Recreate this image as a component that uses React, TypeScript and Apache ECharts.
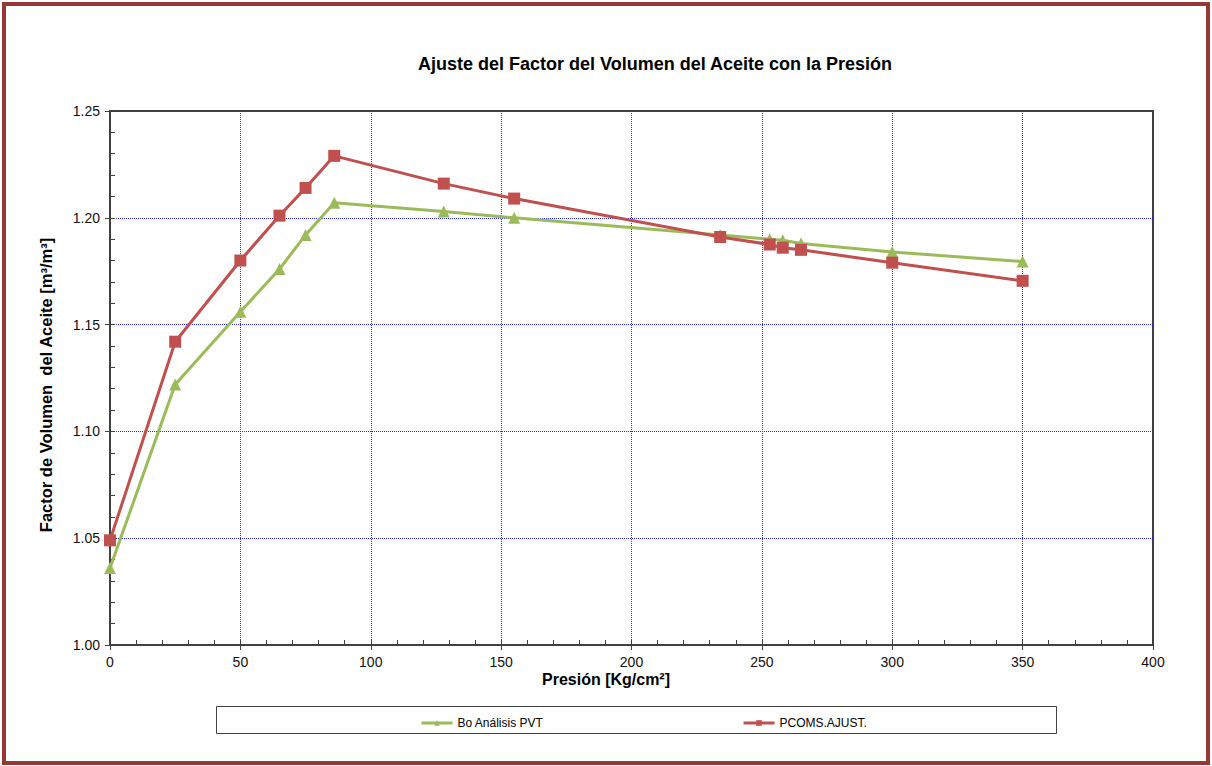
import React, { useEffect, useRef } from "react";
import * as echarts from "echarts";

const pressure = [0, 25, 50, 65, 75, 86, 128, 155, 234, 253, 258, 265, 300, 350];
const boPVT = [1.036, 1.122, 1.156, 1.176, 1.192, 1.207, 1.203, 1.2, 1.192, 1.19, 1.1895, 1.188, 1.184, 1.1795];
const pcoms = [1.049, 1.142, 1.18, 1.201, 1.214, 1.229, 1.216, 1.209, 1.191, 1.1875, 1.186, 1.185, 1.179, 1.1705];

const titleText = "Ajuste del Factor del Volumen del Aceite con la Presión";
const xName = "Presión [Kg/cm²]";
const yName = "Factor de Volumen  del Aceite [m³/m³]";
const seriesNames = ["Bo Análisis PVT", "PCOMS.AJUST."];

const FONT = "'Liberation Sans', Arial, sans-serif";

export default function App() {
  const ref = useRef<HTMLDivElement>(null);
  useEffect(() => {
    if (!ref.current) return;
    const chart = echarts.init(ref.current, null, { renderer: "svg" });
    const grid = { left: 110, top: 111, width: 1043, height: 534 };
    const gridLine = { show: true, lineStyle: { color: "#2a2aff", type: "dotted", width: 1 } };
    const legendCommon = {
      top: 712,
      itemWidth: 31,
      itemHeight: 7,
      itemGap: 4,
      lineStyle: { width: 3 },
      textStyle: { fontSize: 12, color: "#000", fontFamily: FONT },
    };
    chart.setOption({
      animation: false,
      textStyle: { fontFamily: FONT },
      grid: { ...grid, show: true, borderColor: "#404040", borderWidth: 2, backgroundColor: "#fff" },
      legend: [
        { ...legendCommon, data: [seriesNames[0]], left: 415 },
        { ...legendCommon, data: [seriesNames[1]], left: 737 },
      ],
      xAxis: [
        {
          type: "value",
          min: 0,
          max: 400,
          interval: 50,
          position: "bottom",
          axisLine: { show: true, onZero: false, lineStyle: { color: "#404040", width: 2 } },
          axisTick: { show: true, inside: false, length: 5, lineStyle: { color: "#404040" } },
          axisLabel: { fontSize: 14, color: "#111", margin: 10, fontFamily: FONT },
          splitLine: gridLine,
        },
        {
          type: "value",
          min: 0,
          max: 400,
          interval: 10,
          position: "bottom",
          axisLine: { show: false, onZero: false },
          axisTick: { show: true, inside: true, length: 5, lineStyle: { color: "#404040" } },
          axisLabel: { show: false },
          splitLine: { show: false },
        },
      ],
      yAxis: [
        {
          type: "value",
          min: 1.0,
          max: 1.25,
          interval: 0.05,
          position: "left",
          axisLine: { show: true, onZero: false, lineStyle: { color: "#404040", width: 2 } },
          axisTick: { show: true, inside: false, length: 5, lineStyle: { color: "#404040" } },
          axisLabel: {
            fontSize: 14,
            color: "#111",
            margin: 10,
            fontFamily: FONT,
            formatter: (v: number) => v.toFixed(2),
          },
          splitLine: gridLine,
        },
        {
          type: "value",
          min: 1.0,
          max: 1.25,
          interval: 0.01,
          position: "left",
          axisLine: { show: false, onZero: false },
          axisTick: { show: true, inside: true, length: 5, lineStyle: { color: "#404040" } },
          axisLabel: { show: false },
          splitLine: { show: false },
        },
      ],
      series: [
        {
          name: seriesNames[0],
          type: "line",
          xAxisIndex: 0,
          yAxisIndex: 0,
          data: pressure.map((p, i) => [p, boPVT[i]]),
          symbol: "triangle",
          symbolSize: 12,
          lineStyle: { color: "#9BBB59", width: 3 },
          itemStyle: { color: "#9BBB59" },
        },
        {
          name: seriesNames[1],
          type: "line",
          xAxisIndex: 0,
          yAxisIndex: 0,
          data: pressure.map((p, i) => [p, pcoms[i]]),
          symbol: "rect",
          symbolSize: 12,
          lineStyle: { color: "#C0504D", width: 3 },
          itemStyle: { color: "#C0504D" },
        },
      ],
      graphic: [
        {
          type: "rect",
          shape: { x: 4, y: 4, width: 1204, height: 759 },
          style: { fill: "none", stroke: "#953735", lineWidth: 4 },
          silent: true,
          z: 100,
        },
        {
          type: "rect",
          shape: { x: 216.5, y: 706.5, width: 840, height: 27 },
          style: { fill: "none", stroke: "#404040", lineWidth: 1 },
          silent: true,
        },
        {
          type: "text",
          x: 655,
          y: 64,
          style: {
            text: titleText,
            fontSize: 18,
            fontWeight: "bold",
            fontFamily: FONT,
            fill: "#000",
            textAlign: "center",
            textVerticalAlign: "middle",
          },
        },
        {
          type: "text",
          x: 606,
          y: 679,
          style: {
            text: xName,
            fontSize: 16,
            fontWeight: "bold",
            fontFamily: FONT,
            fill: "#000",
            textAlign: "center",
            textVerticalAlign: "middle",
          },
        },
        {
          type: "text",
          x: 46,
          y: 385,
          rotation: Math.PI / 2,
          style: {
            text: yName,
            fontSize: 16.5,
            fontWeight: "bold",
            fontFamily: FONT,
            fill: "#000",
            textAlign: "center",
            textVerticalAlign: "middle",
          },
        },
      ],
    });
    return () => chart.dispose();
  }, []);
  return (
    <div
      ref={ref}
      style={{ position: "absolute", left: 0, top: 0, width: 1212, height: 766, background: "#fff" }}
    />
  );
}
